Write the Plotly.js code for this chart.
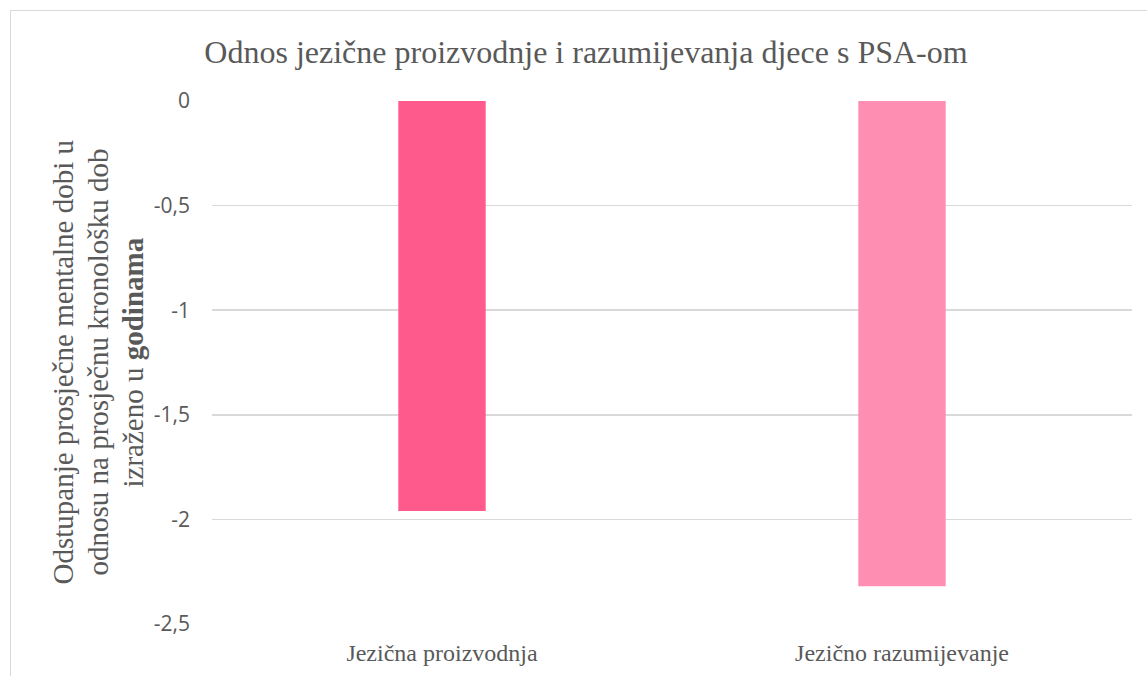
<!DOCTYPE html>
<html>
<head>
<meta charset="utf-8">
<script src="https://cdn.plot.ly/plotly-3.0.1.min.js"></script>
<style>
  html, body { margin: 0; padding: 0; background: #fff; overflow: hidden; }
  #frame { position: absolute; left: 10px; top: 10px; width: 1200px; height: 700px; border: 1.5px solid #d9d9d9; box-sizing: border-box; }
  #chart { position: absolute; left: 0; top: 0; width: 1147px; height: 676px; }
</style>
</head>
<body>
<div id="frame"></div>
<div id="chart"></div>
<script>
const categories = ["Jezična proizvodnja", "Jezično razumijevanje"];
const values = [-1.96, -2.32];
const barColors = ["#FF5A8C", "#FF8FB2"];
const yTickVals = [0, -0.5, -1, -1.5, -2, -2.5];
const yTickText = ["0", "-0,5", "-1", "-1,5", "-2", "-2,5"];
const chartTitle = "Odnos jezične proizvodnje i razumijevanja djece s PSA-om";
const yTitleLines = ["Odstupanje prosječne mentalne dobi u", "odnosu na prosječnu kronološku dob", "izraženo u <b>godinama</b>"];

const W = 1147, H = 676;
const M = { l: 212, r: 15, t: 101, b: 52 };
const pw = W - M.l - M.r;
const titleLineX = [62, 97, 132];
const serif = "Liberation Serif, Times New Roman, serif";

const annotations = yTitleLines.map((t, i) => ({
  text: t,
  xref: "paper", yref: "paper",
  x: (titleLineX[i] - M.l) / pw, y: 0.5,
  xanchor: "center", yanchor: "middle",
  textangle: -90,
  showarrow: false,
  font: { family: serif, size: 29, color: "#595959" }
}));

const trace = {
  type: "bar",
  x: categories,
  y: values,
  marker: { color: barColors, line: { width: 0 } },
  hoverinfo: "none"
};

const layout = {
  width: W, height: H,
  margin: M,
  paper_bgcolor: "rgba(0,0,0,0)",
  plot_bgcolor: "rgba(0,0,0,0)",
  showlegend: false,
  bargap: 0.81,
  title: {
    text: chartTitle,
    xref: "container", yref: "container",
    x: 586 / W, y: 1 - 52 / H,
    xanchor: "center", yanchor: "middle",
    font: { family: serif, size: 32, color: "#595959" }
  },
  xaxis: {
    type: "category",
    showgrid: false,
    zeroline: false,
    showline: false,
    ticks: "",
    ticklabelstandoff: 12,
    tickfont: { family: serif, size: 24, color: "#595959" }
  },
  yaxis: {
    range: [-2.5, 0],
    tickvals: yTickVals,
    ticktext: yTickText,
    showgrid: true,
    gridcolor: "#d9d9d9",
    gridwidth: 1.5,
    zeroline: false,
    showline: false,
    ticks: "",
    ticklabelstandoff: 21,
    tickfont: { family: "Open Sans, Liberation Sans, sans-serif", size: 21, color: "#595959" }
  },
  annotations: annotations
};

Plotly.newPlot("chart", [trace], layout, { displayModeBar: false, staticPlot: true });
</script>
</body>
</html>
